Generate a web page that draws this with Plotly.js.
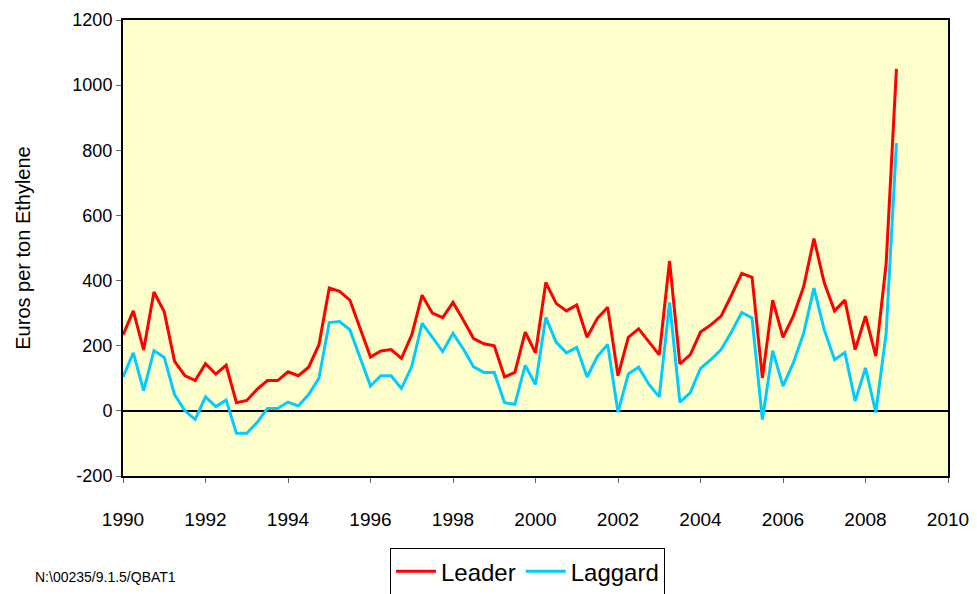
<!DOCTYPE html>
<html>
<head>
<meta charset="utf-8">
<script src="https://cdn.plot.ly/plotly-3.0.1.min.js"></script>
<style>html,body{margin:0;padding:0;background:#fff;}#chart{width:977px;height:594px;}</style>
</head>
<body>
<div id="chart"></div>
<script>
// Quarterly periods starting 1990 Q1
const startYear = 1990;
const leader = [233, 307, 187, 365, 304, 152, 108, 93, 145, 113, 140, 25, 32, 66, 93, 93, 120, 108, 134, 203,
  377, 367, 340, 254, 165, 184, 188, 161, 233, 355, 300, 286, 333, 279, 222, 206, 200, 104, 118, 242,
  178, 394, 330, 307, 325, 226, 284, 318, 108, 226, 252, 212, 172, 460, 144, 172, 242, 264, 291, 355,
  422, 410, 101, 340, 226, 291, 381, 529, 393, 307, 340, 188, 291, 168, 451, 1050];
const laggard = [104, 178, 62, 185, 164, 50, 0, -26, 43, 13, 33, -69, -69, -36, 7, 7, 27, 15, 50, 100,
  271, 274, 249, 165, 76, 108, 108, 69, 136, 269, 225, 182, 238, 190, 135, 118, 118, 25, 20, 140,
  81, 287, 211, 178, 195, 104, 167, 204, -4, 113, 134, 81, 43, 333, 27, 55, 130, 157, 188, 242,
  302, 285, -27, 185, 76, 147, 238, 377, 249, 157, 179, 30, 132, -5, 238, 822];
const periods = leader.map((_, i) => startYear + i / 4);
const xTicks = [1990, 1992, 1994, 1996, 1998, 2000, 2002, 2004, 2006, 2008, 2010];
const yTicks = [-200, 0, 200, 400, 600, 800, 1000, 1200];

const font = "'Liberation Sans', Arial, sans-serif";

const traces = [
  {x: periods, y: leader, name: 'Leader', type: 'scatter', mode: 'lines',
   line: {color: '#FF0000', width: 3}},
  {x: periods, y: laggard, name: 'Laggard', type: 'scatter', mode: 'lines',
   line: {color: '#00CCFF', width: 3}}
];

const layout = {
  width: 977, height: 594,
  margin: {l: 123, r: 29, t: 20, b: 118, autoexpand: false},
  paper_bgcolor: '#ffffff',
  plot_bgcolor: '#FFFFCC',
  font: {family: font, color: '#000', size: 18},
  xaxis: {
    range: [1990, 2010], tickvals: xTicks, ticktext: xTicks.map(String),
    showgrid: false, zeroline: false, showline: true, linecolor: '#000', linewidth: 2,
    mirror: true, ticks: 'outside', ticklen: 5, tickcolor: '#666', tickwidth: 1,
    tickfont: {family: font, size: 19}, ticklabelstandoff: 20, fixedrange: true
  },
  yaxis: {
    range: [-200, 1200], tickvals: yTicks, ticktext: yTicks.map(String),
    showgrid: false, zeroline: true, zerolinecolor: '#000', zerolinewidth: 1.5,
    showline: true, linecolor: '#000', linewidth: 2, mirror: true,
    ticks: 'outside', ticklen: 5, tickcolor: '#666', tickwidth: 1,
    tickfont: {family: font, size: 18},
    title: {text: 'Euros per ton Ethylene', font: {family: font, size: 20}, standoff: 36},
    fixedrange: true
  },
  showlegend: true,
  legend: {
    orientation: 'h', x: 0.3236, xanchor: 'left', y: -0.158, yanchor: 'top',
    bgcolor: '#ffffff', bordercolor: '#000', borderwidth: 1,
    font: {family: font, size: 24}, itemwidth: 40, tracegroupgap: 0
  },
  annotations: [
    {text: 'N:\\00235/9.1.5/QBAT1', xref: 'paper', yref: 'paper', x: -0.109, y: -0.2215,
     xanchor: 'left', yanchor: 'middle', showarrow: false,
     font: {family: font, size: 14, color: '#000'}}
  ]
};

Plotly.newPlot('chart', traces, layout, {displayModeBar: false, staticPlot: true});
</script>
</body>
</html>
